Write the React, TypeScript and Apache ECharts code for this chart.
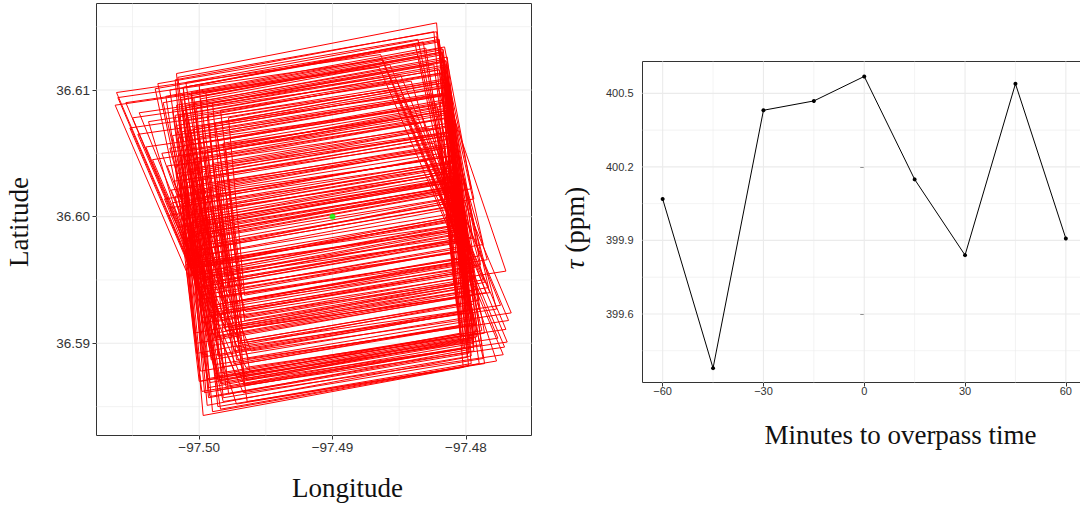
import React, { useEffect, useRef } from "react";
import * as echarts from "echarts";

// ---------- Left panel: footprint polygons (lon, lat corners) ----------
const slantedUpper = [
  [[-97.5062, 36.6098], [-97.4864, 36.6128], [-97.4809, 36.5993], [-97.5007, 36.5963]],
  [[-97.5061, 36.6094], [-97.4863, 36.6124], [-97.4808, 36.5989], [-97.5006, 36.5959]],
  [[-97.5063, 36.6088], [-97.4865, 36.6118], [-97.481, 36.5983], [-97.5008, 36.5953]],
  [[-97.505, 36.6078], [-97.4852, 36.6108], [-97.4797, 36.5973], [-97.4995, 36.5943]],
  [[-97.5046, 36.6065], [-97.4848, 36.6095], [-97.4793, 36.596], [-97.4991, 36.593]],
  [[-97.5052, 36.607], [-97.4854, 36.61], [-97.4799, 36.5965], [-97.4997, 36.5935]],
  [[-97.504, 36.6055], [-97.4842, 36.6085], [-97.4787, 36.595], [-97.4985, 36.592]],
  [[-97.5035, 36.6045], [-97.4837, 36.6075], [-97.4782, 36.594], [-97.498, 36.591]],
  [[-97.5045, 36.6082], [-97.4849, 36.6112], [-97.4799, 36.5982], [-97.4995, 36.5952]],
  [[-97.5055, 36.609], [-97.4857, 36.612], [-97.4805, 36.599], [-97.5003, 36.596]],
];

const topFootprints = [
  [[-97.5017, 36.6113], [-97.4822, 36.6153], [-97.481, 36.6013], [-97.5005, 36.5973]],
  [[-97.5018, 36.6108], [-97.4824, 36.6146], [-97.4812, 36.6006], [-97.5006, 36.5968]],
  [[-97.5031, 36.6105], [-97.4836, 36.614], [-97.4808, 36.6], [-97.5003, 36.5965]],
  [[-97.5033, 36.6101], [-97.4838, 36.6136], [-97.481, 36.5996], [-97.5005, 36.5961]],
  [[-97.5025, 36.6095], [-97.483, 36.6133], [-97.481, 36.5993], [-97.5005, 36.5955]],
  [[-97.5013, 36.6092], [-97.4818, 36.6129], [-97.4802, 36.5989], [-97.4997, 36.5952]],
  [[-97.5038, 36.6075], [-97.4841, 36.6107], [-97.4801, 36.5967], [-97.4998, 36.5935]],
  [[-97.5, 36.6104], [-97.482, 36.614], [-97.481, 36.6], [-97.499, 36.5964]],
  [[-97.4995, 36.6098], [-97.4817, 36.6132], [-97.4803, 36.5992], [-97.4981, 36.5958]],
  [[-97.5022, 36.61], [-97.4832, 36.6138], [-97.4812, 36.5998], [-97.5002, 36.596]],
  [[-97.5027, 36.609], [-97.4835, 36.6126], [-97.4805, 36.5986], [-97.4997, 36.595]],
  [[-97.5004, 36.6094], [-97.4818, 36.613], [-97.4804, 36.599], [-97.499, 36.5954]],
];

const shortUpper = [
  [[-97.5016, 36.611], [-97.4822, 36.6146], [-97.4808, 36.6028], [-97.5002, 36.5992]],
  [[-97.501, 36.6106], [-97.4822, 36.6142], [-97.4804, 36.602], [-97.4992, 36.5984]],
  [[-97.5012, 36.6102], [-97.482, 36.6138], [-97.4808, 36.6023], [-97.5, 36.5987]],
  [[-97.5006, 36.6098], [-97.4816, 36.6134], [-97.4796, 36.6022], [-97.4986, 36.5986]],
  [[-97.5014, 36.6094], [-97.4818, 36.613], [-97.4802, 36.601], [-97.4998, 36.5974]],
  [[-97.5004, 36.609], [-97.4814, 36.6126], [-97.4802, 36.6016], [-97.4992, 36.598]],
  [[-97.501, 36.6086], [-97.4816, 36.6122], [-97.4794, 36.6014], [-97.4988, 36.5978]],
  [[-97.5018, 36.608], [-97.482, 36.6116], [-97.4806, 36.6012], [-97.5004, 36.5976]],
];

const middleFootprints = [
  [[-97.501, 36.6088], [-97.4815, 36.6123], [-97.4795, 36.5983], [-97.499, 36.5948]],
  [[-97.5012, 36.6084], [-97.4817, 36.6118], [-97.4787, 36.5978], [-97.4982, 36.5944]],
  [[-97.5015, 36.608], [-97.482, 36.6116], [-97.4806, 36.5976], [-97.5001, 36.594]],
  [[-97.499, 36.609], [-97.4815, 36.6123], [-97.4803, 36.5983], [-97.4978, 36.595]],
  [[-97.502, 36.6084], [-97.4824, 36.612], [-97.4806, 36.598], [-97.5002, 36.5944]],
  [[-97.4984, 36.6084], [-97.4816, 36.6114], [-97.48, 36.5974], [-97.4968, 36.5944]],
  [[-97.5008, 36.6076], [-97.4814, 36.6109], [-97.479, 36.5969], [-97.4984, 36.5936]],
  [[-97.4978, 36.6078], [-97.4814, 36.6108], [-97.4802, 36.5968], [-97.4966, 36.5938]],
  [[-97.5017, 36.6072], [-97.4822, 36.6106], [-97.4784, 36.5966], [-97.4979, 36.5932]],
  [[-97.4998, 36.6072], [-97.4816, 36.6106], [-97.4798, 36.5966], [-97.498, 36.5932]],
  [[-97.5007, 36.6068], [-97.4812, 36.6103], [-97.4796, 36.5963], [-97.4991, 36.5928]],
  [[-97.4992, 36.6066], [-97.4814, 36.6098], [-97.48, 36.5958], [-97.4978, 36.5926]],
  [[-97.502, 36.6064], [-97.4825, 36.6097], [-97.4797, 36.5957], [-97.4992, 36.5924]],
  [[-97.501, 36.6065], [-97.4815, 36.6097], [-97.477, 36.5957], [-97.4965, 36.5925]],
  [[-97.5016, 36.6062], [-97.4818, 36.6096], [-97.4794, 36.5956], [-97.4992, 36.5922]],
  [[-97.501, 36.606], [-97.4816, 36.6096], [-97.4804, 36.5956], [-97.4998, 36.592]],
  [[-97.4986, 36.606], [-97.4814, 36.609], [-97.4794, 36.595], [-97.4966, 36.592]],
  [[-97.5012, 36.6056], [-97.4817, 36.6092], [-97.4803, 36.5952], [-97.4998, 36.5916]],
  [[-97.498, 36.6054], [-97.4812, 36.6084], [-97.48, 36.5944], [-97.4968, 36.5914]],
  [[-97.5022, 36.6054], [-97.4822, 36.6088], [-97.4786, 36.5948], [-97.4986, 36.5914]],
  [[-97.5008, 36.6052], [-97.4813, 36.6084], [-97.4783, 36.5944], [-97.4978, 36.5912]],
  [[-97.5028, 36.605], [-97.4833, 36.608], [-97.4785, 36.594], [-97.498, 36.591]],
  [[-97.4996, 36.605], [-97.4814, 36.6084], [-97.4798, 36.5944], [-97.498, 36.591]],
  [[-97.5016, 36.6048], [-97.4821, 36.6086], [-97.4809, 36.5946], [-97.5004, 36.5908]],
  [[-97.5004, 36.6046], [-97.4812, 36.6081], [-97.4794, 36.5941], [-97.4986, 36.5906]],
  [[-97.501, 36.6044], [-97.4815, 36.6078], [-97.4793, 36.5938], [-97.4988, 36.5904]],
  [[-97.499, 36.6042], [-97.4812, 36.6074], [-97.479, 36.5934], [-97.4968, 36.5902]],
  [[-97.5018, 36.604], [-97.4823, 36.6076], [-97.4807, 36.5936], [-97.5002, 36.59]],
  [[-97.5024, 36.604], [-97.4828, 36.607], [-97.4774, 36.593], [-97.497, 36.59]],
  [[-97.5007, 36.6037], [-97.4812, 36.6067], [-97.4777, 36.5927], [-97.4972, 36.5897]],
  [[-97.4984, 36.6036], [-97.4812, 36.6066], [-97.4798, 36.5926], [-97.497, 36.5896]],
  [[-97.5014, 36.6032], [-97.4819, 36.607], [-97.4807, 36.593], [-97.5002, 36.5892]],
  [[-97.4998, 36.603], [-97.4814, 36.6064], [-97.4802, 36.5924], [-97.4986, 36.589]],
  [[-97.5009, 36.6027], [-97.4814, 36.6061], [-97.4796, 36.5921], [-97.4991, 36.5887]],
  [[-97.4992, 36.6024], [-97.4812, 36.6056], [-97.4794, 36.5916], [-97.4974, 36.5884]],
  [[-97.5015, 36.6023], [-97.482, 36.6055], [-97.4794, 36.5915], [-97.4989, 36.5883]],
  [[-97.5011, 36.6018], [-97.4816, 36.6054], [-97.4804, 36.5914], [-97.4999, 36.5878]],
  [[-97.4986, 36.6018], [-97.481, 36.6048], [-97.4786, 36.5908], [-97.4962, 36.5878]],
  [[-97.5018, 36.6016], [-97.4818, 36.605], [-97.4788, 36.591], [-97.4988, 36.5876]],
  [[-97.5006, 36.6014], [-97.4811, 36.6048], [-97.4791, 36.5908], [-97.4986, 36.5874]],
  [[-97.5026, 36.6014], [-97.483, 36.6044], [-97.4776, 36.5904], [-97.4972, 36.5874]],
  [[-97.498, 36.6012], [-97.481, 36.6042], [-97.4796, 36.5902], [-97.4966, 36.5872]],
  [[-97.5013, 36.601], [-97.4818, 36.6048], [-97.4804, 36.5908], [-97.4999, 36.587]],
  [[-97.4996, 36.6006], [-97.481, 36.604], [-97.4794, 36.59], [-97.498, 36.5866]],
  [[-97.5008, 36.6001], [-97.4813, 36.6036], [-97.4801, 36.5896], [-97.4996, 36.5861]],
  [[-97.499, 36.6], [-97.481, 36.6032], [-97.4798, 36.5892], [-97.4978, 36.586]],
];

const denseFootprints = [
  [[-97.5012, 36.6102], [-97.482, 36.6139], [-97.4804, 36.5999], [-97.4996, 36.5962]],
  [[-97.5006, 36.6097], [-97.4818, 36.6133], [-97.4806, 36.5993], [-97.4994, 36.5957]],
  [[-97.4999, 36.6093], [-97.4817, 36.6128], [-97.4799, 36.5988], [-97.4981, 36.5953]],
  [[-97.5017, 36.6088], [-97.4817, 36.6124], [-97.4795, 36.5984], [-97.4995, 36.5948]],
  [[-97.5002, 36.6086], [-97.4814, 36.612], [-97.4802, 36.598], [-97.499, 36.5946]],
  [[-97.4994, 36.608], [-97.4814, 36.6114], [-97.4798, 36.5974], [-97.4978, 36.594]],
  [[-97.501, 36.6078], [-97.4814, 36.6113], [-97.4802, 36.5973], [-97.4998, 36.5938]],
  [[-97.4988, 36.6074], [-97.4814, 36.6106], [-97.4794, 36.5966], [-97.4968, 36.5934]],
  [[-97.5004, 36.607], [-97.4814, 36.6104], [-97.48, 36.5964], [-97.499, 36.593]],
  [[-97.5013, 36.6067], [-97.4815, 36.6102], [-97.4789, 36.5962], [-97.4987, 36.5927]],
  [[-97.5, 36.6063], [-97.4814, 36.6096], [-97.4802, 36.5956], [-97.4988, 36.5923]],
  [[-97.4982, 36.6058], [-97.4814, 36.6088], [-97.4798, 36.5948], [-97.4966, 36.5918]],
  [[-97.5006, 36.6057], [-97.4814, 36.6091], [-97.4796, 36.5951], [-97.4988, 36.5917]],
  [[-97.4994, 36.6053], [-97.4812, 36.6086], [-97.4798, 36.5946], [-97.498, 36.5913]],
  [[-97.5014, 36.6047], [-97.4814, 36.6082], [-97.4794, 36.5942], [-97.4994, 36.5907]],
  [[-97.5, 36.6045], [-97.4812, 36.6078], [-97.48, 36.5938], [-97.4988, 36.5905]],
  [[-97.4988, 36.604], [-97.4812, 36.6071], [-97.4794, 36.5931], [-97.497, 36.59]],
  [[-97.5006, 36.6038], [-97.4812, 36.6072], [-97.4798, 36.5932], [-97.4992, 36.5898]],
  [[-97.4996, 36.6034], [-97.4812, 36.6067], [-97.479, 36.5927], [-97.4974, 36.5894]],
  [[-97.501, 36.6029], [-97.4812, 36.6064], [-97.48, 36.5924], [-97.4998, 36.5889]],
  [[-97.4986, 36.6027], [-97.481, 36.6058], [-97.4796, 36.5918], [-97.4972, 36.5887]],
  [[-97.5002, 36.6021], [-97.481, 36.6055], [-97.4792, 36.5915], [-97.4984, 36.5881]],
  [[-97.4994, 36.6016], [-97.481, 36.6048], [-97.4798, 36.5908], [-97.4982, 36.5876]],
  [[-97.5008, 36.6009], [-97.481, 36.6044], [-97.4794, 36.5904], [-97.4992, 36.5869]],
  [[-97.4986, 36.6008], [-97.4808, 36.6039], [-97.4788, 36.5899], [-97.4966, 36.5868]],
  [[-97.5, 36.6003], [-97.4808, 36.6037], [-97.4794, 36.5897], [-97.4986, 36.5863]],
  [[-97.4994, 36.5997], [-97.4808, 36.603], [-97.4796, 36.589], [-97.4982, 36.5857]],
  [[-97.5002, 36.5986], [-97.481, 36.6022], [-97.4798, 36.5882], [-97.499, 36.5846]],
];

const shortLower = [
  [[-97.5008, 36.5992], [-97.4816, 36.6026], [-97.4802, 36.5906], [-97.4994, 36.5872]],
  [[-97.5004, 36.5986], [-97.4812, 36.602], [-97.4794, 36.5905], [-97.4986, 36.5871]],
  [[-97.5012, 36.598], [-97.4816, 36.6014], [-97.4804, 36.5904], [-97.5, 36.587]],
  [[-97.5, 36.5974], [-97.481, 36.6008], [-97.4794, 36.5903], [-97.4984, 36.5869]],
  [[-97.5006, 36.5968], [-97.4812, 36.6002], [-97.479, 36.5902], [-97.4984, 36.5868]],
  [[-97.501, 36.5962], [-97.4814, 36.5996], [-97.4802, 36.5896], [-97.4998, 36.5862]],
  [[-97.5002, 36.5996], [-97.4812, 36.603], [-97.4792, 36.5905], [-97.4982, 36.5871]],
];

const lowerFootprints = [
  [[-97.5009, 36.5983], [-97.4814, 36.6021], [-97.4802, 36.5881], [-97.4997, 36.5843]],
  [[-97.5006, 36.5991], [-97.4811, 36.6029], [-97.4799, 36.5889], [-97.4994, 36.5851]],
  [[-97.5005, 36.5997], [-97.481, 36.6035], [-97.4798, 36.5895], [-97.4993, 36.5857]],
  [[-97.5005, 36.6005], [-97.481, 36.6043], [-97.4798, 36.5903], [-97.4993, 36.5865]],
  [[-97.5004, 36.5988], [-97.481, 36.6024], [-97.479, 36.5884], [-97.4984, 36.5848]],
  [[-97.5012, 36.5994], [-97.4817, 36.6028], [-97.4787, 36.5888], [-97.4982, 36.5854]],
  [[-97.5016, 36.5992], [-97.4821, 36.6026], [-97.4777, 36.5886], [-97.4972, 36.5852]],
  [[-97.4984, 36.5994], [-97.4806, 36.6024], [-97.4786, 36.5884], [-97.4964, 36.5854]],
  [[-97.5, 36.599], [-97.481, 36.6024], [-97.4796, 36.5884], [-97.4986, 36.585]],
  [[-97.5012, 36.5998], [-97.4814, 36.6034], [-97.4794, 36.5894], [-97.4992, 36.5858]],
];

const slantedLower = [
  [[-97.5017, 36.6034], [-97.4822, 36.6064], [-97.4766, 36.5924], [-97.4961, 36.5894]],
  [[-97.5019, 36.6028], [-97.4824, 36.6058], [-97.4768, 36.5918], [-97.4963, 36.5888]],
  [[-97.5021, 36.6021], [-97.4826, 36.6051], [-97.477, 36.5911], [-97.4965, 36.5881]],
  [[-97.502, 36.6011], [-97.4825, 36.6041], [-97.4769, 36.5901], [-97.4964, 36.5871]],
  [[-97.5022, 36.6007], [-97.4827, 36.6037], [-97.4771, 36.5897], [-97.4966, 36.5867]],
  [[-97.5023, 36.6001], [-97.4828, 36.6031], [-97.4772, 36.5891], [-97.4967, 36.5861]],
];

const site = [[-97.49, 36.6]];

const lonTicks = [-97.5, -97.49, -97.48];
const lonMinor = [-97.505, -97.495, -97.485];
const latTicks = [36.59, 36.6, 36.61];
const latMinor = [36.585, 36.595, 36.605, 36.615];
const lonRange = [-97.5077, -97.47508];
const latRange = [36.58272, 36.61683];

// ---------- Right panel: tau vs minutes ----------
const minutes = [-60, -45, -30, -15, 0, 15, 30, 45, 60];
const tau = [400.069, 399.379, 400.431, 400.469, 400.569, 400.149, 399.84, 400.539, 399.908];
const minuteTicks = [-60, -30, 0, 30, 60];
const minuteMinor = [-45, -15, 15, 45];
const tauTicks = [399.6, 399.9, 400.2, 400.5];
const tauMinor = [399.45, 399.75, 400.05, 400.35];
const minuteRange = [-66, 66];
const tauRange = [399.3204, 400.6299];

const MINUS = "\u2212";
const fmt = (d: number) => (v: number) => (v < 0 ? MINUS : "") + Math.abs(v).toFixed(d);

const GRID_COLOR = "#EBEBEB";

function vGridSeries(idx: number, major: number[], minor: number[]) {
  return {
    type: "custom",
    xAxisIndex: idx,
    yAxisIndex: idx,
    silent: true,
    z: 1,
    data: major.map((v) => [v, 1]).concat(minor.map((v) => [v, 0])),
    renderItem: (params: any, api: any) => {
      const cs = params.coordSys;
      const x = api.coord([api.value(0), 0])[0];
      const isMajor = api.value(1) === 1;
      return {
        type: "line",
        shape: { x1: x, y1: cs.y, x2: x, y2: cs.y + cs.height },
        style: { stroke: GRID_COLOR, lineWidth: isMajor ? 1.1 : 0.6 },
      };
    },
  };
}

function hGridSeries(idx: number, major: number[], minor: number[], xAny: number) {
  return {
    type: "custom",
    xAxisIndex: idx,
    yAxisIndex: idx,
    silent: true,
    z: 1,
    encode: { x: 1, y: 0 },
    data: major.map((v) => [v, 1]).concat(minor.map((v) => [v, 0])),
    renderItem: (params: any, api: any) => {
      const cs = params.coordSys;
      const y = api.coord([xAny, api.value(0)])[1];
      const isMajor = api.value(1) === 1;
      return {
        type: "line",
        shape: { x1: cs.x, y1: y, x2: cs.x + cs.width, y2: y },
        style: { stroke: GRID_COLOR, lineWidth: isMajor ? 1.1 : 0.6 },
      };
    },
  };
}

const footprints = [
  ...slantedUpper,
  ...topFootprints,
  ...shortUpper,
  ...middleFootprints,
  ...denseFootprints,
  ...shortLower,
  ...lowerFootprints,
  ...slantedLower,
];

const tickFont = "Liberation Sans";
const titleFont = "Liberation Serif";

const option: any = {
  animation: false,
  backgroundColor: "#ffffff",
  grid: [
    { left: 96.5, top: 3.5, width: 435, height: 432, show: true, borderColor: "#333333", borderWidth: 1, backgroundColor: "#ffffff", outerBoundsMode: "none", containLabel: false },
    { left: 642.5, top: 61.5, width: 443.5, height: 321, show: true, borderColor: "#333333", borderWidth: 1, backgroundColor: "#ffffff", outerBoundsMode: "none", containLabel: false },
  ],
  xAxis: [
    {
      gridIndex: 0,
      type: "value",
      min: lonRange[0],
      max: lonRange[1],
      axisLine: { show: false },
      splitLine: { show: false },
      axisTick: { show: true, customValues: lonTicks, length: 4, lineStyle: { color: "#333333" } },
      axisLabel: { customValues: lonTicks, formatter: fmt(2), fontSize: 13.5, fontFamily: tickFont, color: "#333333", margin: 5 },
    },
    {
      gridIndex: 1,
      type: "value",
      min: minuteRange[0],
      max: minuteRange[1],
      axisLine: { show: false },
      splitLine: { show: false },
      axisTick: { show: true, customValues: minuteTicks, length: 4, lineStyle: { color: "#333333" } },
      axisLabel: { customValues: minuteTicks, formatter: fmt(0), fontSize: 11, fontFamily: tickFont, color: "#333333", margin: 3 },
    },
  ],
  yAxis: [
    {
      gridIndex: 0,
      type: "value",
      min: latRange[0],
      max: latRange[1],
      axisLine: { show: false },
      splitLine: { show: false },
      axisTick: { show: true, customValues: latTicks, length: 4, lineStyle: { color: "#333333" } },
      axisLabel: { customValues: latTicks, formatter: fmt(2), fontSize: 13.5, fontFamily: tickFont, color: "#333333", margin: 6.5 },
    },
    {
      gridIndex: 1,
      type: "value",
      min: tauRange[0],
      max: tauRange[1],
      axisLine: { show: false },
      splitLine: { show: false },
      axisTick: { show: true, customValues: tauTicks, length: 4, lineStyle: { color: "#333333" } },
      axisLabel: { customValues: tauTicks, formatter: fmt(1), fontSize: 11, fontFamily: tickFont, color: "#333333", margin: 9 },
    },
  ],
  series: [
    vGridSeries(0, lonTicks, lonMinor),
    hGridSeries(0, latTicks, latMinor, lonRange[0]),
    vGridSeries(1, minuteTicks, minuteMinor),
    hGridSeries(1, tauTicks, tauMinor, minuteRange[0]),
    {
      type: "custom",
      xAxisIndex: 0,
      yAxisIndex: 0,
      z: 2,
      silent: true,
      data: footprints.map((poly) => poly.flat()),
      renderItem: (params: any, api: any) => {
        const points = [0, 1, 2, 3].map((i) => api.coord([api.value(2 * i), api.value(2 * i + 1)]));
        return {
          type: "polygon",
          shape: { points },
          style: { fill: "none", stroke: "#FF0000", lineWidth: 1 },
        };
      },
    },
    {
      type: "scatter",
      xAxisIndex: 0,
      yAxisIndex: 0,
      z: 5,
      data: site,
      symbol: "circle",
      symbolSize: 6,
      itemStyle: { color: "#00FF00" },
    },
    {
      type: "line",
      xAxisIndex: 1,
      yAxisIndex: 1,
      z: 3,
      data: minutes.map((m, i) => [m, tau[i]]),
      symbol: "circle",
      symbolSize: 4,
      showSymbol: true,
      lineStyle: { color: "#000000", width: 1 },
      itemStyle: { color: "#000000" },
    },
  ],
  graphic: [
    {
      type: "text",
      x: 347.5,
      y: 488,
      style: { text: "Longitude", fontSize: 27, fontFamily: titleFont, fill: "#111111", align: "center", verticalAlign: "middle" },
    },
    {
      type: "text",
      x: 19,
      y: 222,
      rotation: Math.PI / 2,
      style: { text: "Latitude", fontSize: 27, fontFamily: titleFont, fill: "#111111", align: "center", verticalAlign: "middle" },
    },
    {
      type: "text",
      x: 900.5,
      y: 435,
      style: { text: "Minutes to overpass time", fontSize: 27, fontFamily: titleFont, fill: "#111111", align: "center", verticalAlign: "middle" },
    },
    {
      type: "text",
      x: 575,
      y: 228,
      rotation: Math.PI / 2,
      style: {
        text: "{t|\u03C4} (ppm)",
        fontSize: 27,
        fontFamily: titleFont,
        fill: "#111111",
        align: "center",
        verticalAlign: "middle",
        rich: { t: { fontStyle: "italic", fontSize: 27, fontFamily: titleFont, fill: "#111111" } },
      },
    },
  ],
};

export default function App() {
  const ref = useRef<HTMLDivElement>(null);
  useEffect(() => {
    if (!ref.current) return;
    const chart = echarts.init(ref.current, null, { renderer: "svg" });
    chart.setOption(option);
    return () => chart.dispose();
  }, []);
  return (
    <div
      ref={ref}
      style={{ position: "fixed", left: 0, top: 0, width: 1080, height: 507, background: "#ffffff" }}
    />
  );
}
